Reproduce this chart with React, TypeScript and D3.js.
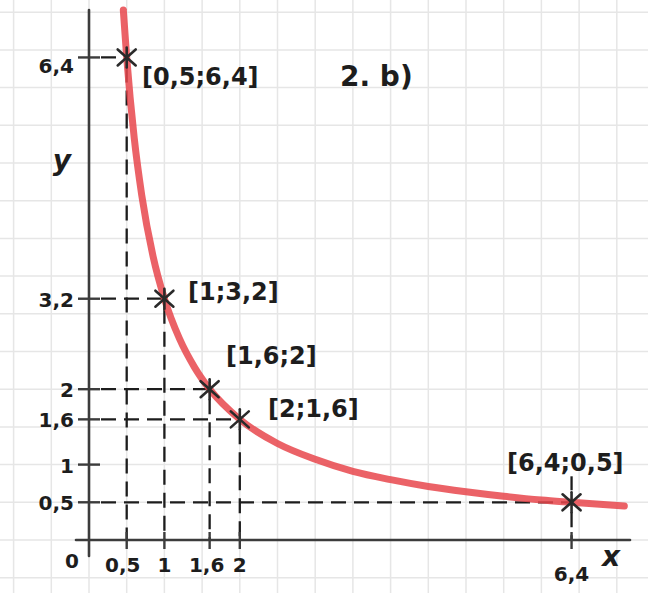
import React from "react";
import * as d3 from "d3";

// Marked points [x, y]
const pointsX = [0.5, 1, 1.6, 2, 6.4];
const pointsY = [6.4, 3.2, 2, 1.6, 0.5];
const pointLabels = ["[0,5;6,4]", "[1;3,2]", "[1,6;2]", "[2;1,6]", "[6,4;0,5]"];

// Red curve
const curveX = [0.455, 0.5, 0.6, 0.7, 0.85, 1, 1.2, 1.4, 1.6, 2, 2.5, 3, 3.5, 4, 4.5, 5, 5.5, 6, 6.4, 7.1];
const curveY = [7.03, 6.4, 5.33, 4.57, 3.76, 3.2, 2.67, 2.29, 2, 1.6, 1.28, 1.07, 0.91, 0.8, 0.71, 0.64, 0.58, 0.53, 0.5, 0.45];

// Axis tick labels
const xTicks = [0.5, 1, 1.6, 2, 6.4];
const xTickLabels = ["0,5", "1", "1,6", "2", "6,4"];
const yTicks = [6.4, 3.2, 2, 1.6, 1, 0.5];
const yTickLabels = ["6,4", "3,2", "2", "1,6", "1", "0,5"];

const title = "2. b)";

const W = 648;
const H = 593;
const U = 75.4;
const X0 = 89;
const Y0 = 540;

export default function App() {
  const x = d3.scaleLinear().domain([0, 7]).range([X0, X0 + 7 * U]);
  const y = d3.scaleLinear().domain([0, 7]).range([Y0, Y0 - 7 * U]);

  const gridXs = d3.range(-1.0, 8.01, 0.5).map((v) => x(v)).filter((p) => p > 5 && p < W - 2);
  const gridYs = d3.range(-1.0, 7.51, 0.5).map((v) => y(v)).filter((p) => p > -1 && p < H);

  const line = d3
    .line<number>()
    .x((_, i) => x(curveX[i]))
    .y((d) => y(d))
    .curve(d3.curveMonotoneX);

  const font = "'DejaVu Sans', sans-serif";
  const ink = "#1d1d1d";
  const dash = "15,8";

  return (
    <svg width={W} height={H} style={{ position: "absolute", left: 0, top: 0, background: "#fff" }}>
      <rect width={W} height={H} fill="#fff" />
      {/* grid paper */}
      <g stroke="#e6e6e6" strokeWidth={1.5}>
        {gridXs.map((gx, i) => (
          <line key={"gx" + i} x1={gx} x2={gx} y1={0} y2={H} />
        ))}
        {gridYs.map((gy, i) => (
          <line key={"gy" + i} x1={0} x2={W} y1={gy} y2={gy} />
        ))}
      </g>

      {/* dashed guides */}
      <g stroke={ink} strokeWidth={2.3} strokeDasharray={dash} fill="none">
        {pointsX.map((px, i) => (
          <g key={"d" + i}>
            <line x1={x(0) + 12} x2={x(px)} y1={y(pointsY[i])} y2={y(pointsY[i])} />
            <line x1={x(px)} x2={x(px)} y1={y(pointsY[i]) + 10} y2={y(0)} />
          </g>
        ))}
        <line x1={x(6.4)} x2={x(6.4)} y1={y(0.5) - 12} y2={y(0.5) - 26} />
      </g>

      {/* axes */}
      <g stroke="#3c3c3c" strokeWidth={2.6} strokeLinecap="round">
        <line x1={x(0)} x2={x(0)} y1={10} y2={556} />
        <line x1={76} x2={630} y1={y(0)} y2={y(0)} />
      </g>
      <g stroke="#3c3c3c" strokeWidth={2.4}>
        {yTicks.map((t, i) => (
          <line key={"yt" + i} x1={x(0) - 11} x2={x(0) + 11} y1={y(t)} y2={y(t)} />
        ))}
        {xTicks.map((t, i) => (
          <line key={"xt" + i} x1={x(t)} x2={x(t)} y1={y(0) - 8} y2={y(0) + 9} />
        ))}
      </g>

      {/* red curve */}
      <path
        d={line(curveY) || ""}
        fill="none"
        stroke="#e8474c"
        strokeOpacity={0.85}
        strokeWidth={7}
        strokeLinecap="round"
      />

      {/* asterisk markers */}
      <g stroke="#2a2a2a" strokeWidth={2.6} strokeLinecap="round">
        {pointsX.map((px, i) => {
          const cx = x(px);
          const cy = y(pointsY[i]);
          return (
            <g key={"m" + i}>
              <line x1={cx - 9} x2={cx + 9} y1={cy - 8} y2={cy + 8} />
              <line x1={cx - 9} x2={cx + 9} y1={cy + 8} y2={cy - 8} />
              <line x1={cx} x2={cx} y1={cy - 10} y2={cy + 10} />
            </g>
          );
        })}
      </g>

      {/* labels */}
      <g fontFamily={font} fontWeight={600} fill={ink}>
        {pointLabels.map((lab, i) => {
          const offs = [
            [142, 85],
            [188, 300],
            [226, 364],
            [268, 417],
            [507, 471],
          ][i];
          return (
            <text key={"pl" + i} x={offs[0]} y={offs[1]} fontSize={24}>
              {lab}
            </text>
          );
        })}
        <text x={340} y={86} fontSize={28}>
          {title}
        </text>
        {yTickLabels.map((lab, i) => (
          <text key={"yl" + i} x={74} y={y(yTicks[i]) + (yTicks[i] === 6.4 ? 16 : 8)} fontSize={20} textAnchor="end">
            {lab}
          </text>
        ))}
        {xTickLabels.map((lab, i) => (
          <text
            key={"xl" + i}
            x={x(xTicks[i]) + (xTicks[i] === 0.5 ? -4 : xTicks[i] === 1.6 ? -3 : 0)}
            y={y(0) + (xTicks[i] === 6.4 ? 41 : 32)}
            fontSize={20}
            textAnchor="middle"
          >
            {lab}
          </text>
        ))}
        <text x={72} y={568} fontSize={20} textAnchor="middle">
          0
        </text>
        <text x={62} y={170} fontSize={28} textAnchor="middle" fontStyle="italic">
          y
        </text>
        <text x={611} y={566} fontSize={28} textAnchor="middle" fontStyle="italic">
          x
        </text>
      </g>
    </svg>
  );
}
